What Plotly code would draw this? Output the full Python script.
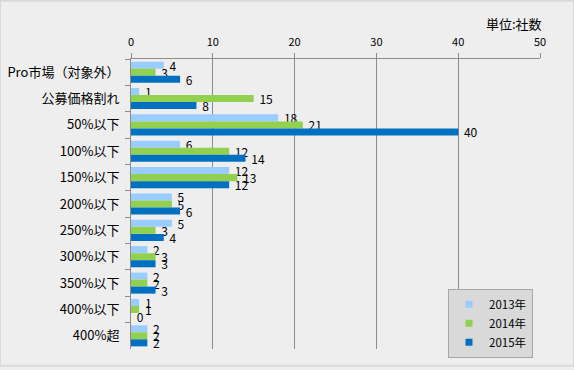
import plotly.graph_objects as go

categories = ["Pro市場（対象外）", "公募価格割れ", "50%以下", "100%以下", "150%以下", "200%以下",
              "250%以下", "300%以下", "350%以下", "400%以下", "400%超"]
v2013 = [4, 1, 18, 6, 12, 5, 5, 2, 2, 1, 2]
v2014 = [3, 15, 21, 12, 13, 5, 3, 3, 2, 1, 2]
v2015 = [6, 8, 40, 14, 12, 6, 4, 3, 3, 0, 2]
series = [("2013年", v2013, "#99ccff"), ("2014年", v2014, "#92d050"), ("2015年", v2015, "#0070c0")]

FONT = "Noto Sans CJK JP"
L, R, T, B = 131, 34, 59, 17
W, H = 574, 370
pw = W - L - R
ph = H - T - B

fig = go.Figure()
for name, vals, color in series:
    fig.add_trace(go.Bar(
        y=categories, x=vals, name=name, orientation="h",
        marker=dict(color=color, line=dict(width=0)),
        text=["\u00a0" + str(v) for v in vals], textposition="outside", constraintext="none",
        textfont=dict(family=FONT, size=12, color="#000000"),
        cliponaxis=False, showlegend=False,
    ))
# legend entries with small square swatches
for name, vals, color in series:
    fig.add_trace(go.Scatter(
        x=[None], y=[None], mode="markers", name=name,
        marker=dict(symbol="square", size=7, color=color),
    ))

fig.update_layout(
    width=W, height=H,
    paper_bgcolor="#eeeeee", plot_bgcolor="#eeeeee",
    margin=dict(l=L, r=R, t=T, b=B),
    barmode="group", bargap=0.2, bargroupgap=0,
    font=dict(family=FONT, size=12, color="#000000"),
    xaxis=dict(side="top", range=[0, 50], dtick=10, showgrid=True, gridcolor="#8c8c8c", gridwidth=1,
               showline=True, linecolor="#8c8c8c", ticks="outside", ticklen=5, tickcolor="#8c8c8c",
               tickfont=dict(size=11), zeroline=False, automargin=False, ticklabelstandoff=3),
    yaxis=dict(autorange="reversed", showline=True, linecolor="#8c8c8c", ticks="outside",
               tickson="boundaries", ticklen=5, tickcolor="#8c8c8c", tickfont=dict(size=13),
               showgrid=False, automargin=False, ticklabelstandoff=8),
    legend=dict(
        x=(448 - L) / pw, y=(H - B - 292) / ph, xanchor="left", yanchor="top",
        bgcolor="#d9d9d9", bordercolor="#a6a6a6", borderwidth=1,
        font=dict(size=11.5), entrywidth=52, itemwidth=30, tracegroupgap=0, indentation=0,
    ),
    shapes=[dict(type="rect", xref="paper", yref="paper", x0=-L / pw, x1=(W - L) / pw,
                 y0=-B / ph, y1=(H - B) / ph, line=dict(color="#d9d9d9", width=2))],
)
fig.add_annotation(text="単位:社数", xref="paper", yref="paper", x=(544 - L) / pw, y=(H - B - 11) / ph,
                   xanchor="right", yanchor="top", showarrow=False, font=dict(size=13))
fig.write_html("out.html", config={"displayModeBar": False},
               post_script="document.body.style.margin='0';")
